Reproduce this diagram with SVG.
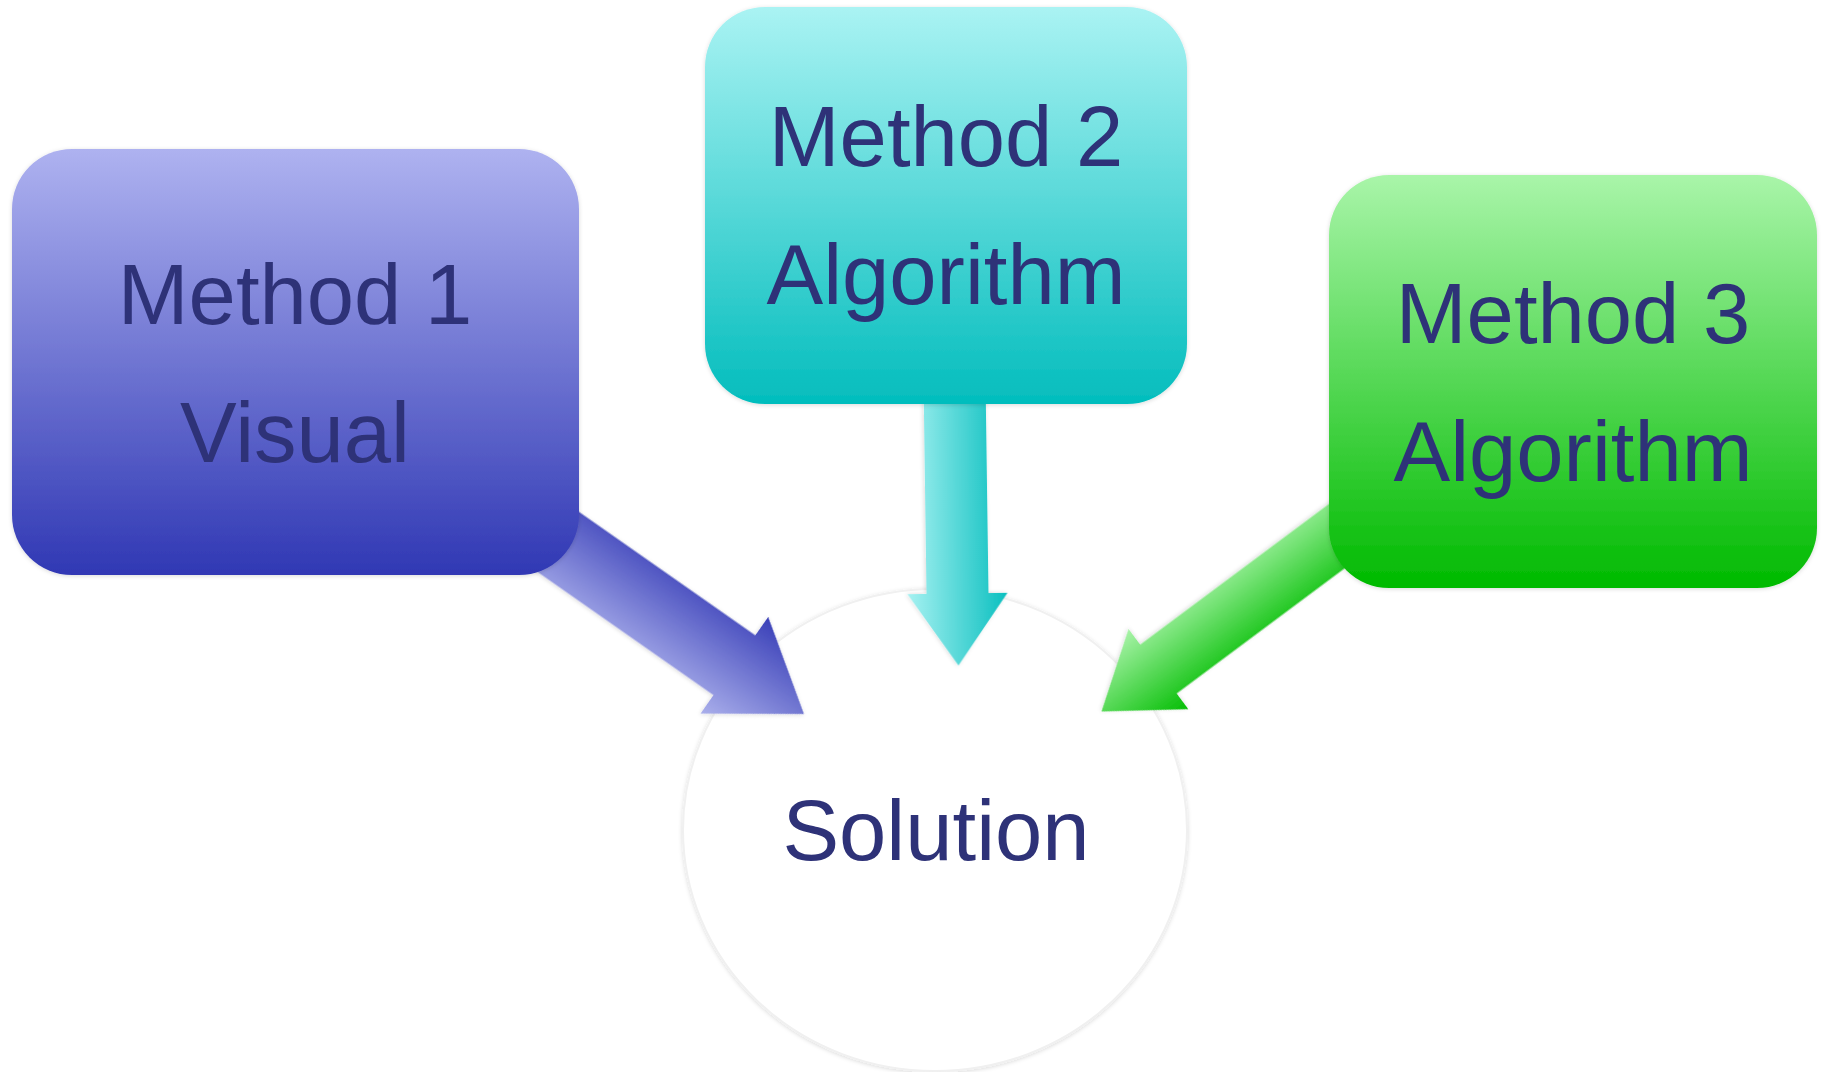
<svg xmlns="http://www.w3.org/2000/svg" width="1825" height="1072" viewBox="0 0 1825 1072">
  <defs>
    <linearGradient id="gBox1" x1="0" y1="0" x2="0" y2="1">
      <stop offset="0" stop-color="#AEB2F0"/>
      <stop offset="1" stop-color="#3038B4"/>
    </linearGradient>
    <linearGradient id="gBox2" x1="0" y1="0" x2="0" y2="1">
      <stop offset="0" stop-color="#AAF3F3"/>
      <stop offset="1" stop-color="#03BDBD"/>
    </linearGradient>
    <linearGradient id="gBox3" x1="0" y1="0" x2="0" y2="1">
      <stop offset="0" stop-color="#A9F5A9"/>
      <stop offset="1" stop-color="#00BA00"/>
    </linearGradient>
    <linearGradient id="gArr1" gradientUnits="userSpaceOnUse" x1="0" y1="-59" x2="0" y2="59">
      <stop offset="0" stop-color="#3A40B8"/>
      <stop offset="1" stop-color="#AAAFEB"/>
    </linearGradient>
    <linearGradient id="gArr2" gradientUnits="userSpaceOnUse" x1="0" y1="-50" x2="0" y2="50">
      <stop offset="0" stop-color="#0ABFBF"/>
      <stop offset="1" stop-color="#A6F1F1"/>
    </linearGradient>
    <linearGradient id="gArr3" gradientUnits="userSpaceOnUse" x1="0" y1="-50" x2="0" y2="50">
      <stop offset="0" stop-color="#04BE04"/>
      <stop offset="1" stop-color="#A8F3A8"/>
    </linearGradient>
    <filter id="shadow" x="-10%" y="-10%" width="120%" height="120%">
      <feDropShadow dx="0" dy="1" stdDeviation="2" flood-color="#000" flood-opacity="0.15"/>
    </filter>
  </defs>
  <style>
    .lbl { font-family: "Liberation Sans", Arial, sans-serif; font-size: 85px; fill: #2E3278; text-anchor: middle; }
    .box { filter: url(#shadow); }
  </style>

  <g id="solution">
    <ellipse cx="935" cy="830" rx="252" ry="241" fill="#FFFFFF" stroke="#F0F0F0" stroke-width="2" filter="url(#shadow)"/>
    <text class="lbl" x="936" y="860">Solution</text>
  </g>

  <g id="connectors">
    <g transform="translate(804,714) rotate(35)">
      <polygon points="-430,-36.5 -85,-36.5 -85,-59 0,0 -85,59 -85,36.5 -430,36.5" fill="url(#gArr1)" filter="url(#shadow)"/>
    </g>
    <g transform="translate(958.5,665.5) rotate(89.2)">
      <polygon points="-335,-31 -72,-31 -72,-50 0,0 -72,50 -72,31 -335,31" fill="url(#gArr2)" filter="url(#shadow)"/>
    </g>
    <g transform="translate(1101.5,711.5) rotate(143.3)">
      <polygon points="-397,-30.5 -71,-30.5 -71,-50 0,0 -71,50 -71,30.5 -397,30.5" fill="url(#gArr3)" filter="url(#shadow)"/>
    </g>
  </g>

  <g id="method1">
    <rect class="box" x="12" y="149" width="567" height="426" rx="60" ry="60" fill="url(#gBox1)"/>
    <text class="lbl" x="295" y="324">Method 1</text>
    <text class="lbl" x="295" y="462">Visual</text>
  </g>

  <g id="method2">
    <rect class="box" x="705" y="7" width="482" height="397" rx="60" ry="60" fill="url(#gBox2)"/>
    <text class="lbl" x="946" y="166">Method 2</text>
    <text class="lbl" x="946" y="304">Algorithm</text>
  </g>

  <g id="method3">
    <rect class="box" x="1329" y="175" width="488" height="413" rx="60" ry="60" fill="url(#gBox3)"/>
    <text class="lbl" x="1573" y="343">Method 3</text>
    <text class="lbl" x="1573" y="481">Algorithm</text>
  </g>
</svg>
